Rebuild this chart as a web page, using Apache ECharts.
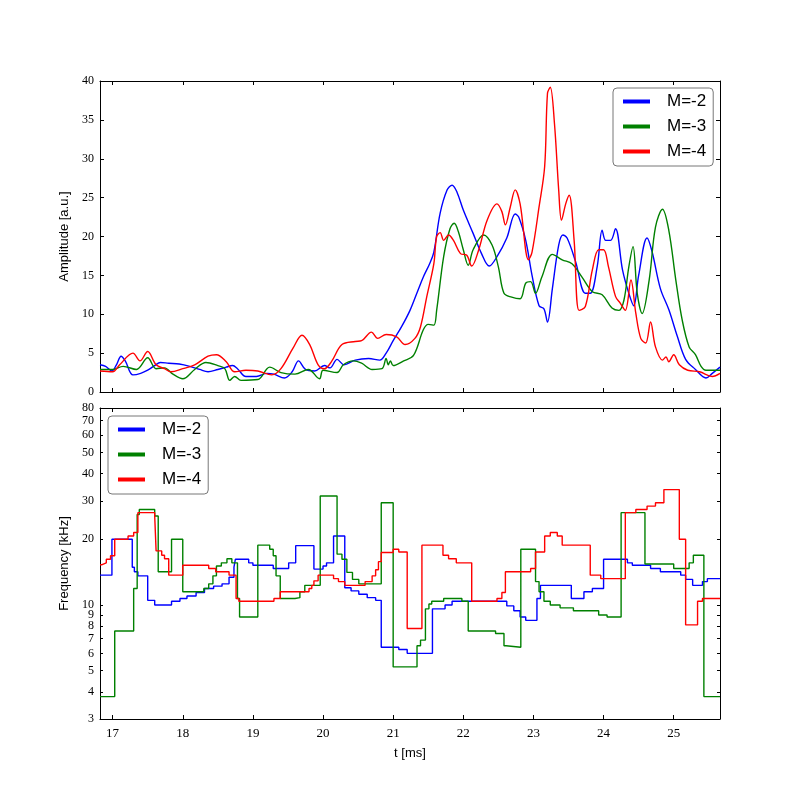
<!DOCTYPE html>
<html>
<head>
<meta charset="utf-8">
<script src="https://cdn.jsdelivr.net/npm/echarts@6/dist/echarts.min.js"></script>
<style>
html,body{margin:0;padding:0;background:#fff}
#chart{width:800px;height:800px}
</style>
</head>
<body>
<div id="chart"></div>
<script>
// legend names / colours
const seriesNames = ['M=-2', 'M=-3', 'M=-4'];
const seriesColors = ['#0000ff', '#008000', '#ff0000'];
// tick labels
const timeTicks = [17, 18, 19, 20, 21, 22, 23, 24, 25];
const freqTicks = [3, 4, 5, 6, 7, 8, 9, 10, 20, 30, 40, 50, 60, 70, 80];

// amplitude [a.u.] vs t [ms]  (top panel)
const ampM2 = [[16.82,3.5],[16.9,3.3],[16.99,2.7],[17.06,3.6],[17.12,4.6],[17.18,4.0],[17.29,2.2],[17.4,2.4],[17.5,2.8],[17.6,3.4],[17.68,3.8],[17.8,3.7],[17.95,3.6],[18.1,3.3],[18.24,2.9],[18.36,2.6],[18.5,2.9],[18.62,3.2],[18.71,3.4],[18.78,3.0],[18.9,2.0],[19.05,2.0],[19.2,2.4],[19.3,2.3],[19.45,1.8],[19.56,2.6],[19.65,4.0],[19.75,2.9],[19.88,2.7],[20.02,3.4],[20.1,3.1],[20.2,4.2],[20.3,3.5],[20.46,4.1],[20.65,4.3],[20.81,4.1],[20.9,5.0],[21.0,6.6],[21.12,8.4],[21.24,10.5],[21.35,13.0],[21.43,14.8],[21.52,16.5],[21.58,18.0],[21.67,23.0],[21.77,26.0],[21.84,26.6],[21.91,25.7],[22.0,23.4],[22.14,20.4],[22.26,17.8],[22.37,16.2],[22.48,17.4],[22.62,19.8],[22.74,22.9],[22.79,22.5],[22.89,19.5],[22.98,15.0],[23.08,11.1],[23.15,10.7],[23.2,9.0],[23.27,13.3],[23.36,18.9],[23.42,20.2],[23.48,19.8],[23.6,16.8],[23.74,12.7],[23.81,12.7],[23.91,16.2],[23.98,20.8],[24.03,19.5],[24.1,19.5],[24.17,21.0],[24.27,15.7],[24.36,12.7],[24.43,11.1],[24.5,15.0],[24.62,19.8],[24.69,18.1],[24.81,13.3],[24.93,10.6],[25.05,7.2],[25.17,4.2],[25.31,2.9],[25.46,1.8],[25.55,2.4],[25.66,3.2]];
const ampM3 = [[16.82,2.9],[17.0,2.9],[17.15,3.3],[17.34,2.9],[17.5,4.4],[17.62,3.0],[17.74,3.1],[17.86,2.3],[18.0,1.7],[18.17,2.9],[18.33,3.8],[18.5,3.4],[18.6,3.0],[18.67,1.5],[18.74,2.0],[18.83,1.5],[19.07,1.6],[19.24,3.2],[19.4,2.5],[19.6,2.3],[19.79,2.9],[19.95,1.7],[20.0,2.8],[20.2,2.5],[20.29,3.5],[20.43,4.0],[20.55,3.7],[20.7,2.9],[20.84,3.0],[20.9,4.3],[20.93,3.5],[20.96,4.0],[21.0,3.4],[21.15,4.0],[21.29,4.7],[21.43,8.0],[21.5,8.7],[21.58,8.6],[21.62,10.5],[21.72,17.4],[21.81,21.0],[21.87,21.7],[21.93,20.6],[22.0,18.3],[22.07,16.3],[22.14,18.3],[22.29,20.2],[22.41,18.9],[22.5,16.1],[22.58,12.7],[22.69,12.2],[22.81,12.0],[22.89,14.0],[22.96,14.2],[23.03,12.7],[23.12,14.8],[23.27,17.7],[23.41,17.0],[23.55,16.5],[23.69,14.8],[23.84,12.9],[23.98,12.5],[24.12,10.8],[24.22,10.5],[24.29,11.8],[24.36,16.1],[24.42,18.7],[24.48,12.7],[24.55,10.1],[24.65,14.4],[24.74,21.2],[24.84,23.5],[24.93,20.8],[25.03,14.4],[25.12,9.3],[25.22,5.8],[25.31,4.8],[25.39,3.3],[25.46,2.8],[25.66,2.8]];
const ampM4 = [[16.82,2.7],[17.0,2.6],[17.1,3.5],[17.29,5.0],[17.39,4.0],[17.5,5.2],[17.62,3.5],[17.74,3.0],[17.83,2.6],[18.0,3.0],[18.17,3.5],[18.36,4.6],[18.48,4.8],[18.62,3.9],[18.74,2.6],[18.9,2.8],[19.07,2.7],[19.27,2.2],[19.4,3.0],[19.57,5.6],[19.7,7.3],[19.81,6.1],[19.93,3.5],[20.02,3.0],[20.12,3.9],[20.27,6.1],[20.46,6.5],[20.55,6.6],[20.69,7.7],[20.78,6.9],[20.9,7.4],[21.05,7.1],[21.17,6.1],[21.31,6.9],[21.39,8.4],[21.48,12.3],[21.58,16.5],[21.62,20.0],[21.67,20.5],[21.72,19.5],[21.79,20.2],[21.86,19.5],[21.96,17.8],[22.05,17.6],[22.12,16.2],[22.22,18.3],[22.34,22.1],[22.48,24.2],[22.55,23.2],[22.6,21.5],[22.67,23.8],[22.74,26.0],[22.81,24.2],[22.93,17.0],[22.98,18.0],[23.08,23.8],[23.16,29.0],[23.2,38.4],[23.24,39.2],[23.3,34.5],[23.36,26.0],[23.4,22.1],[23.46,24.2],[23.51,25.3],[23.58,19.5],[23.65,10.5],[23.74,11.0],[23.84,15.7],[23.93,18.3],[24.0,18.3],[24.07,16.1],[24.17,12.3],[24.24,11.4],[24.31,10.5],[24.39,14.4],[24.46,10.1],[24.53,6.9],[24.6,6.3],[24.67,9.0],[24.74,5.8],[24.84,4.1],[24.89,4.5],[24.93,3.9],[25.0,4.8],[25.08,3.5],[25.2,2.8],[25.37,2.6],[25.55,2.0],[25.66,2.4]];

// frequency [kHz] vs t [ms]  (bottom panel, step change points)
const freqM2 = [[16.82,13.7],[16.99,20.0],[17.28,14.9],[17.31,14.2],[17.36,13.6],[17.5,10.5],[17.6,10.0],[17.84,10.4],[17.96,10.7],[18.06,11.0],[18.19,11.4],[18.31,11.9],[18.44,12.2],[18.56,12.5],[18.66,13.4],[18.73,14.9],[18.75,16.2],[18.94,15.6],[19.0,15.2],[19.29,14.7],[19.51,15.6],[19.61,18.7],[19.87,14.6],[20.0,15.1],[20.05,15.6],[20.15,20.7],[20.31,12.0],[20.4,11.6],[20.51,11.2],[20.63,10.8],[20.75,10.5],[20.83,6.4],[21.08,6.25],[21.2,6.0],[21.56,9.6],[21.74,10.0],[21.84,10.4],[22.62,9.9],[22.72,9.4],[22.81,8.8],[22.89,8.5],[23.05,10.7],[23.1,12.3],[23.54,10.7],[23.72,11.5],[23.84,11.9],[24.0,16.2],[24.34,15.6],[24.41,15.2],[24.67,14.7],[24.81,14.2],[25.1,13.7],[25.17,13.1],[25.27,12.3],[25.41,12.8],[25.48,13.2],[25.66,13.2]];
const freqM3 = [[16.82,3.8],[17.03,7.6],[17.3,11.9],[17.35,26.0],[17.38,27.4],[17.6,25.6],[17.65,14.2],[17.84,20.0],[18.0,11.5],[18.3,11.9],[18.37,12.5],[18.43,13.6],[18.48,15.1],[18.55,15.6],[18.63,16.3],[18.7,15.6],[18.78,10.7],[18.81,8.8],[19.07,18.8],[19.24,18.0],[19.29,16.8],[19.33,13.6],[19.39,10.7],[19.6,10.8],[19.67,11.5],[19.74,12.3],[19.96,31.6],[20.2,17.1],[20.27,16.2],[20.34,14.1],[20.42,13.1],[20.51,12.5],[20.83,29.4],[21.0,5.2],[21.34,6.5],[21.39,6.9],[21.46,9.6],[21.51,10.1],[21.55,10.4],[21.72,10.7],[21.98,10.4],[22.07,7.6],[22.46,7.4],[22.58,6.5],[22.61,6.4],[22.82,18.0],[23.03,12.8],[23.08,11.5],[23.15,10.4],[23.24,10.0],[23.38,9.7],[23.57,9.4],[23.93,9.0],[24.05,8.8],[24.25,26.5],[24.59,15.4],[25.0,14.7],[25.22,15.6],[25.28,16.9],[25.43,3.8],[25.66,3.8]];
const freqM4 = [[16.82,15.3],[16.85,15.6],[16.91,16.2],[16.97,16.8],[17.03,20.0],[17.22,20.7],[17.3,21.5],[17.36,26.5],[17.6,25.6],[17.62,17.7],[17.7,16.9],[17.74,16.3],[17.8,13.7],[18.0,15.2],[18.37,14.7],[18.47,14.2],[18.66,13.7],[18.76,10.7],[18.8,10.4],[19.3,10.7],[19.39,11.5],[19.8,11.9],[19.84,12.3],[19.87,12.9],[19.93,13.7],[20.15,13.2],[20.22,12.8],[20.31,12.3],[20.6,12.8],[20.7,13.6],[20.75,14.5],[20.79,15.8],[20.83,17.4],[21.0,18.0],[21.08,17.5],[21.2,7.8],[21.41,18.8],[21.71,16.9],[21.79,16.3],[21.9,15.6],[22.12,10.4],[22.48,10.7],[22.55,11.4],[22.6,14.2],[22.96,14.7],[23.03,17.5],[23.16,20.7],[23.24,21.5],[23.34,20.7],[23.41,18.8],[23.81,13.7],[23.96,13.2],[24.31,26.5],[24.46,27.4],[24.62,28.4],[24.74,29.4],[24.86,33.8],[25.08,20.0],[25.17,8.1],[25.34,10.4],[25.41,10.7],[25.66,10.7]];

const tMin = 16.82, tMax = 25.66;
const tickFont = 'Liberation Serif';
const textFont = 'Liberation Sans';

function frameAxis(extra) {
    let ax = {
        axisLine: {show: true, onZero: false, lineStyle: {color: '#000', width: 1}},
        axisTick: {show: true, inside: true, length: 4, lineStyle: {color: '#000'}},
        axisLabel: {show: false},
        splitLine: {show: false}
    };
    return Object.assign(ax, extra);
}
function timeAxis(gridIndex, position, withLabels) {
    let ax = frameAxis({type: 'value', gridIndex: gridIndex, position: position, min: tMin, max: tMax});
    ax.axisTick.customValues = timeTicks;
    if (withLabels) {
        ax.axisLabel = {show: true, customValues: timeTicks, margin: 8, fontFamily: tickFont, fontSize: 13, color: '#000'};
        ax.name = 't [ms]';
        ax.nameLocation = 'middle';
        ax.nameGap = 28;
        ax.nameTextStyle = {fontFamily: textFont, fontSize: 13, color: '#000'};
    }
    return ax;
}
function legendFor(left, top) {
    return {
        show: true, orient: 'vertical', left: left, top: top,
        data: seriesNames,
        icon: 'rect', itemWidth: 27, itemHeight: 4, itemGap: 8,
        padding: [5, 7, 6, 10],
        borderColor: '#777', borderWidth: 1, borderRadius: 4, backgroundColor: '#fff',
        textStyle: {fontFamily: textFont, fontSize: 17, color: '#000', padding: [0, 0, 0, 12], lineHeight: 17},
        selectedMode: false
    };
}

let myChart = echarts.init(document.getElementById('chart'));
let ampSets = [ampM2, ampM3, ampM4];
let freqSets = [freqM2, freqM3, freqM4];
let series = [];
for (let i = 0; i < 3; i++) {
    series.push({
        name: seriesNames[i], type: 'line', xAxisIndex: 0, yAxisIndex: 0,
        data: ampSets[i], smooth: 0.35, showSymbol: false,
        lineStyle: {color: seriesColors[i], width: 1.4}, itemStyle: {color: seriesColors[i]}
    });
}
for (let i = 0; i < 3; i++) {
    series.push({
        name: seriesNames[i], type: 'line', xAxisIndex: 2, yAxisIndex: 2,
        data: freqSets[i], step: 'end', showSymbol: false,
        lineStyle: {color: seriesColors[i], width: 1.4}, itemStyle: {color: seriesColors[i]}
    });
}

let option = {
    animation: false,
    backgroundColor: '#fff',
    grid: [
        {left: 100, top: 81, width: 620, height: 311},
        {left: 100, top: 408, width: 620, height: 311}
    ],
    legend: [legendFor(613, 88), legendFor(108, 416)],
    xAxis: [
        timeAxis(0, 'bottom', false),
        timeAxis(0, 'top', false),
        timeAxis(1, 'bottom', true),
        timeAxis(1, 'top', false)
    ],
    yAxis: [
        frameAxis({
            type: 'value', gridIndex: 0, position: 'left', min: 0, max: 40, interval: 5,
            axisLabel: {show: true, margin: 6, fontFamily: tickFont, fontSize: 12, color: '#000'},
            name: 'Amplitude [a.u.]', nameLocation: 'middle', nameGap: 27,
            nameTextStyle: {fontFamily: textFont, fontSize: 13, color: '#000'}
        }),
        frameAxis({type: 'value', gridIndex: 0, position: 'right', min: 0, max: 40, interval: 5}),
        frameAxis({
            type: 'log', logBase: 10, gridIndex: 1, position: 'left', min: 3, max: 80,
            axisTick: {show: true, inside: true, length: 3, customValues: freqTicks, lineStyle: {color: '#000'}},
            axisLabel: {show: true, customValues: freqTicks, margin: 6, fontFamily: tickFont, fontSize: 12, color: '#000'},
            name: 'Frequency [kHz]', nameLocation: 'middle', nameGap: 27,
            nameTextStyle: {fontFamily: textFont, fontSize: 13, color: '#000'}
        }),
        frameAxis({
            type: 'log', logBase: 10, gridIndex: 1, position: 'right', min: 3, max: 80,
            axisTick: {show: true, inside: true, length: 3, customValues: freqTicks, lineStyle: {color: '#000'}}
        })
    ],
    series: series
};
myChart.setOption(option);
</script>
</body>
</html>
